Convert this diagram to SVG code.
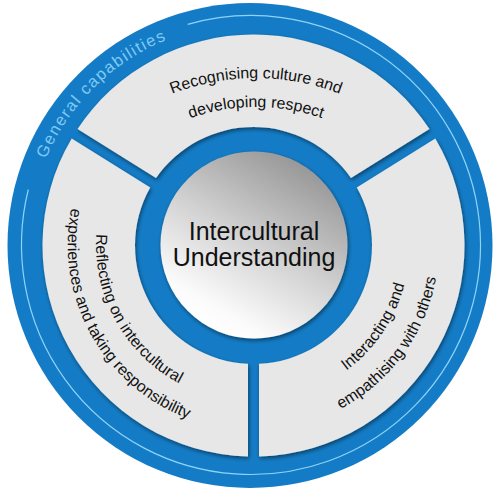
<svg xmlns="http://www.w3.org/2000/svg" xmlns:xlink="http://www.w3.org/1999/xlink" width="500" height="500" viewBox="0 0 500 500">
  <style>
    .seg { fill: #e7e7e7; filter: url(#shadow); }
    .lbl { font-family: "Liberation Sans", Arial, sans-serif; font-size: 16px; fill: #111111; }
    .ring-lbl { font-family: "Liberation Sans", Arial, sans-serif; font-size: 16.5px; fill: #7fc9f3; letter-spacing: 1.5px; }
    .core { font-family: "Liberation Sans", Arial, sans-serif; font-size: 25px; fill: #111111; text-anchor: middle; }
  </style>
  <defs>
    <filter id="shadow" x="-20%" y="-20%" width="140%" height="140%">
      <feDropShadow dx="1" dy="2" stdDeviation="2.2" flood-color="#000000" flood-opacity="0.5"/>
    </filter>
    <linearGradient id="coreGrad" x1="0.78" y1="0.05" x2="0.25" y2="0.95">
      <stop offset="0" stop-color="#959595"/>
      <stop offset="0.5" stop-color="#d2d2d2"/>
      <stop offset="0.88" stop-color="#fbfbfb"/>
      <stop offset="1" stop-color="#ffffff"/>
    </linearGradient>
    <path id="pGen" d="M 90.95 401.30 A 223 223 0 0 1 409.05 88.70"/>
    <path id="pTop1" d="M 26 308 A 230 230 0 0 1 486 308"/>
    <path id="pTop2" d="M 56 307 A 200 200 0 0 1 456 307"/>
    <path id="pLeft1" d="M 176.89 107.68 A 157 157 0 0 0 329.11 382.32"/>
    <path id="pLeft2" d="M 162.83 82.32 A 186 186 0 0 0 343.17 407.68"/>
    <path id="pRight1" d="M 165.21 375.16 A 157 157 0 0 0 340.79 114.84"/>
    <path id="pRight2" d="M 143.67 395.48 A 186 186 0 0 0 362.33 94.52"/>
  </defs>

  <g id="outer-ring">
    <circle cx="250" cy="245.5" r="242.5" fill="#147cc6"/>
    <path d="M 187.74 24.39 A 229.5 229.5 0 1 1 28.32 189.48" fill="none" stroke="#8fd3f7" stroke-width="1.2"/>
    <text class="ring-lbl"><textPath xlink:href="#pGen" href="#pGen" startOffset="50%" text-anchor="middle">General capabilities</textPath></text>
  </g>

  <g id="connectors">
    <!-- dividers are the blue gaps between segments -->
  </g>

  <g id="seg-top">
    <path class="seg" d="M 77.55 129.04 A 211 211 0 0 1 429.45 129.04 L 350.97 178.11 A 118.5 118.5 0 0 0 156.03 178.11 Z"/>
    <text class="lbl"><textPath xlink:href="#pTop1" href="#pTop1" startOffset="50%" text-anchor="middle">Recognising culture and</textPath></text>
    <text class="lbl"><textPath xlink:href="#pTop2" href="#pTop2" startOffset="50%" text-anchor="middle">developing respect</textPath></text>
  </g>

  <g id="seg-right">
    <path class="seg" d="M 435.30 138.41 A 211 211 0 0 1 259.0 456.43 L 259.0 363.87 A 118.5 118.5 0 0 0 356.80 187.43 Z"/>
    <text class="lbl"><textPath xlink:href="#pRight1" href="#pRight1" startOffset="50%" text-anchor="middle">Interacting and</textPath></text>
    <text class="lbl"><textPath xlink:href="#pRight2" href="#pRight2" startOffset="50%" text-anchor="middle">empathising with others</textPath></text>
  </g>

  <g id="seg-left">
    <path class="seg" d="M 248.0 456.43 A 211 211 0 0 1 71.70 138.41 L 150.20 187.43 A 118.5 118.5 0 0 0 248.0 363.87 Z"/>
    <text class="lbl"><textPath xlink:href="#pLeft1" href="#pLeft1" startOffset="50%" text-anchor="middle">Reflecting on intercultural</textPath></text>
    <text class="lbl"><textPath xlink:href="#pLeft2" href="#pLeft2" startOffset="50%" text-anchor="middle">experiences and taking responsibility</textPath></text>
  </g>

  <g id="core">
    <circle cx="254" cy="245" r="93.5" fill="url(#coreGrad)" filter="url(#shadow)"/>
    <text class="core" x="254" y="240">Intercultural</text>
    <text class="core" x="254" y="266">Understanding</text>
  </g>
</svg>
